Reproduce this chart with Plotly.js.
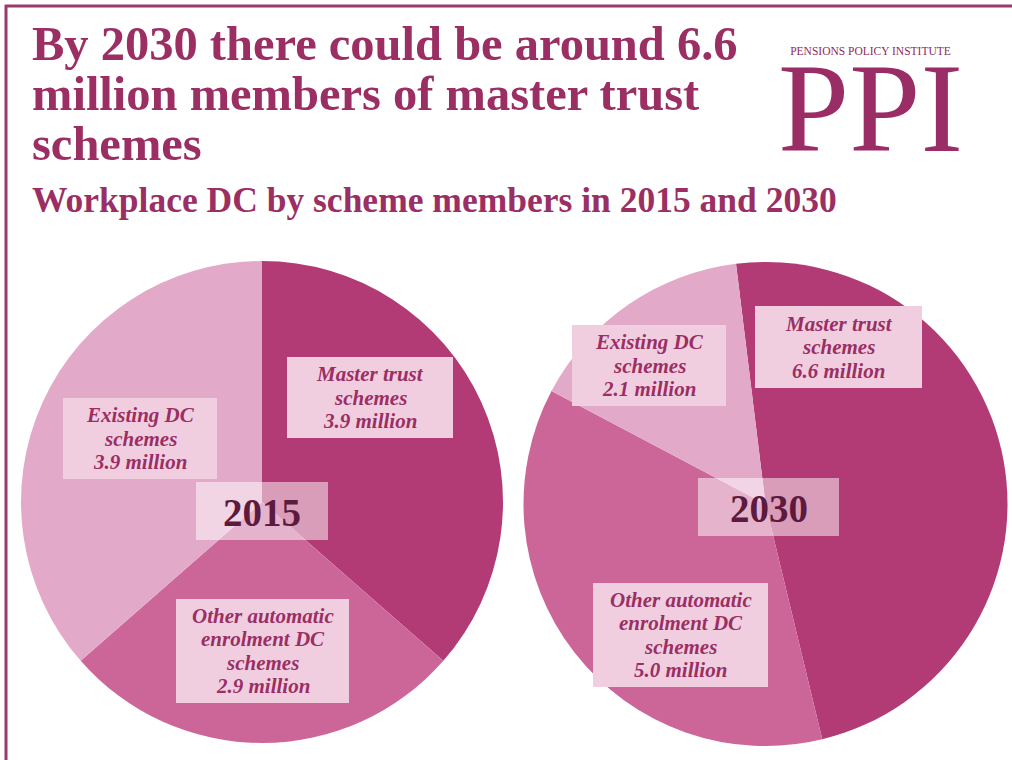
<!DOCTYPE html>
<html>
<head>
<meta charset="utf-8">
<script src="https://cdn.plot.ly/plotly-3.0.1.min.js"></script>
<style>
  html, body { margin: 0; padding: 0; background: #ffffff; }
  #chart { width: 1012px; height: 760px; }
</style>
</head>
<body>
<div id="chart"></div>
<script>
// ---- data ----
const categories = ['Master trust schemes', 'Other automatic enrolment DC schemes', 'Existing DC schemes'];
const shortLabels = [['Master trust', 'schemes'], ['Other automatic', 'enrolment DC', 'schemes'], ['Existing DC', 'schemes']];
const years = ['2015', '2030'];
const members2015 = [3.9, 2.9, 3.9];   // millions
const members2030 = [6.6, 5.0, 2.1];   // millions
const titleLines = ['By 2030 there could be around 6.6', 'million members of master trust', 'schemes'];
const subtitleText = 'Workplace DC by scheme members in 2015 and 2030';
const logoSmall = 'PENSIONS POLICY INSTITUTE';
const logoBig = 'PPI';

// ---- styling ----
const W = 1012, H = 760;
const sliceColors = ['#b23a75', '#cc6698', '#e2aac8'];
const plum = '#9b2f63';
const px = x => x / W;
const py = y => 1 - y / H;

function pieTrace(values, cx, cy, r, rotation) {
  return {
    type: 'pie',
    labels: categories,
    values: values,
    sort: false,
    direction: 'clockwise',
    rotation: rotation,
    marker: { colors: sliceColors, line: { width: 0 } },
    textinfo: 'none',
    hoverinfo: 'label+value',
    showlegend: false,
    domain: { x: [px(cx - r), px(cx + r)], y: [py(cy + r), py(cy - r)] }
  };
}

const data = [
  pieTrace(members2015, 262, 502, 241, 0),
  pieTrace(members2030, 765.5, 504, 242, -7)
];

const fmt = v => v.toFixed(1) + ' million';

// label boxes: [x0, y0, x1, y1] in pixels
const boxes2015 = [[287, 357, 453, 438], [176, 599, 349, 703], [63, 398, 217, 479]];
const boxes2030 = [[755, 306, 922, 388], [593, 583, 768, 687], [572, 325, 726, 406]];
const yearBoxes = [[196, 482, 328, 540], [698, 478, 839, 536]];

const shapes = [];
const annotations = [];
const LINE = 23.5;

function addLabels(boxes, values) {
  boxes.forEach((b, i) => {
    shapes.push({
      type: 'rect', xref: 'paper', yref: 'paper', layer: 'above',
      x0: px(b[0]), x1: px(b[2]), y0: py(b[3]), y1: py(b[1]),
      fillcolor: 'rgb(240,206,224)', line: { width: 0 }
    });
    const lines = shortLabels[i].concat([fmt(values[i])]);
    const cy = (b[1] + b[3]) / 2;
    const cx = (b[0] + b[2]) / 2;
    lines.forEach((t, k) => {
      const yc = cy + (k - (lines.length - 1) / 2) * LINE;
      annotations.push({
        xref: 'paper', yref: 'paper', showarrow: false,
        x: px(cx), y: py(yc), xanchor: 'center', yanchor: 'middle',
        text: '<b><i>' + t + '</i></b>',
        font: { family: 'Liberation Serif, serif', size: 21, color: plum }
      });
    });
  });
}
addLabels(boxes2015, members2015);
addLabels(boxes2030, members2030);

yearBoxes.forEach((b, i) => {
  shapes.push({
    type: 'rect', xref: 'paper', yref: 'paper', layer: 'above',
    x0: px(b[0]), x1: px(b[2]), y0: py(b[3]), y1: py(b[1]),
    fillcolor: 'rgba(255,255,255,0.5)', line: { width: 0 }
  });
  annotations.push({
    xref: 'paper', yref: 'paper', showarrow: false,
    x: px((b[0] + b[2]) / 2), y: py((b[1] + b[3]) / 2 + 1),
    xanchor: 'center', yanchor: 'middle',
    text: '<b>' + years[i] + '</b>',
    font: { family: 'Liberation Serif, serif', size: 39, color: '#5c1a3e' }
  });
});

// frame lines
shapes.push({ type: 'line', xref: 'paper', yref: 'paper', x0: px(5), x1: 1, y0: py(6), y1: py(6), line: { color: '#9b3a6b', width: 3 } });
shapes.push({ type: 'line', xref: 'paper', yref: 'paper', x0: px(6), x1: px(6), y0: py(5), y1: 0, line: { color: '#9b3a6b', width: 3 } });

// title lines
const titleBaselines = [62, 112, 162];
titleLines.forEach((t, i) => {
  annotations.push({
    xref: 'paper', yref: 'paper', showarrow: false,
    x: px(30), y: py(titleBaselines[i] + 10), xanchor: 'left', yanchor: 'bottom',
    text: '<b>' + t + '</b>',
    font: { family: 'Liberation Serif, serif', size: 48.5, color: plum }
  });
});
annotations.push({
  xref: 'paper', yref: 'paper', showarrow: false,
  x: px(30), y: py(222), xanchor: 'left', yanchor: 'bottom',
  text: '<b>' + subtitleText + '</b>',
  font: { family: 'Liberation Serif, serif', size: 35.5, color: plum }
});

// logo: one text block (small line, spacer lines, big letters)
annotations.push({
  xref: 'paper', yref: 'paper', showarrow: false,
  x: px(870), y: py(181), xanchor: 'center', yanchor: 'bottom', align: 'center',
  text: '<span style="font-size:11.5px;fill:#8e2a5c">' + logoSmall + '</span>' +
        '<br>&nbsp;<br>&nbsp;<br>&nbsp;<br>&nbsp;<br>' +
        '<span style="font-size:128px">' + logoBig + '</span>',
  font: { family: 'Liberation Serif, serif', size: 14.77, color: '#9b2d66' }
});

const layout = {
  width: W, height: H,
  margin: { l: 0, r: 0, t: 0, b: 0 },
  paper_bgcolor: '#ffffff',
  showlegend: false,
  shapes: shapes,
  annotations: annotations
};

Plotly.newPlot('chart', data, layout, { displayModeBar: false, staticPlot: true });
</script>
</body>
</html>
